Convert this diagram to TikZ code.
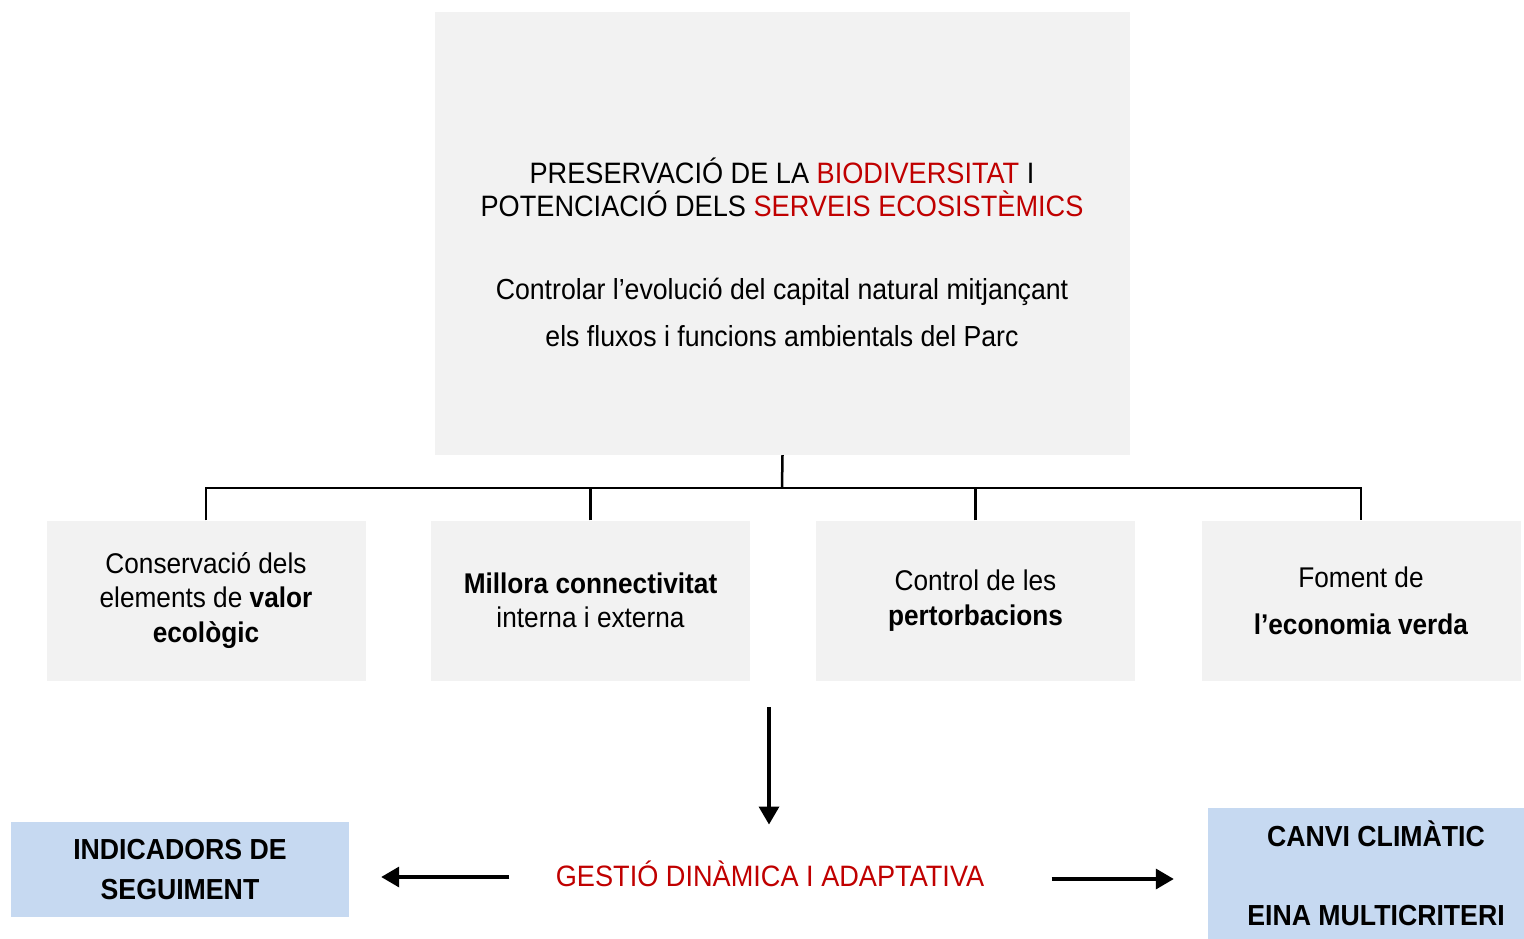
\documentclass[tikz,border=0pt]{standalone}
\usepackage{fontspec}
\setmainfont{Liberation Sans}[FakeStretch=0.92]
\usetikzlibrary{arrows.meta}
\definecolor{boxgray}{RGB}{242,242,242}
\definecolor{boxblue}{RGB}{198,217,241}
\definecolor{titlered}{RGB}{192,0,0}
\newcommand{\rtext}[1]{\textcolor{titlered}{#1}}
\begin{document}
\begin{tikzpicture}[x=1pt,y=-1pt,
    box/.style={fill=boxgray,minimum width=319pt,minimum height=160pt,inner sep=0pt,align=center,font=\fontsize{28.5}{34.5}\selectfont},
    bluebox/.style={fill=boxblue,inner sep=0pt,align=center,font=\fontsize{29}{40}\selectfont\bfseries},
    link/.style={line width=2.5pt},
    arr/.style={line width=3.5pt,-{Triangle[length=18pt,width=20pt]}}]
  \useasboundingbox (0,0) rectangle (1524,939);
  \node[fill=boxgray,minimum width=695pt,minimum height=443pt,inner sep=0pt] (top) at (782.5,233.5) {};
  \node[align=center,font=\fontsize{29.5}{33}\selectfont] (aim) at (782,187) {PRESERVACIÓ DE LA \rtext{BIODIVERSITAT} I\\POTENCIACIÓ DELS \rtext{SERVEIS ECOSISTÈMICS}};
  \node[align=center,font=\fontsize{29}{47}\selectfont] (how) at (782,312) {Controlar l’evolució del capital natural mitjançant\\els fluxos i funcions ambientals del Parc};
  \node[box] (A) at (206,600.5) {Conservació dels\\elements de \textbf{valor}\\\textbf{ecològic}};
  \node[box] (B) at (590.5,600.5) {\textbf{Millora connectivitat}\\interna i externa};
  \node[box] (C) at (975.5,600.5) {Control de les\\\textbf{pertorbacions}};
  \node[box,font=\fontsize{28.5}{47}\selectfont] (D) at (1361,600.5) {Foment de\\\textbf{l’economia verda}};
  \coordinate (J) at (782,488);
  \draw[link] (top.south) -- (J);
  \draw[link] (A.north) |- (J) -| (D.north);
  \draw[link] (B.north) -- (B.north |- J);
  \draw[link] (C.north) -- (C.north |- J);
  \node[font=\fontsize{29.5}{34}\selectfont,text=titlered] (G) at (770,874) {GESTIÓ DINÀMICA I ADAPTATIVA};
  \node[bluebox,minimum width=338pt,minimum height=95pt] (L) at (180,869.5) {INDICADORS DE\\SEGUIMENT};
  \node[bluebox,minimum width=336pt,minimum height=131pt] (R) at (1376,873.5) {CANVI CLIMÀTIC\\[39pt]EINA MULTICRITERI};
  \coordinate (S) at (769,707);
  \draw[arr,shorten >=33pt] (S) -- (S |- G.north);
  \draw[arr,shorten <=43pt,shorten >=32pt] ([yshift=-3pt]G.west) -- ([yshift=-3pt]G.west -| L.east);
  \draw[arr,shorten <=64pt,shorten >=34pt] ([yshift=-5pt]G.east) -- ([yshift=-5pt]G.east -| R.west);
\end{tikzpicture}
\end{document}
